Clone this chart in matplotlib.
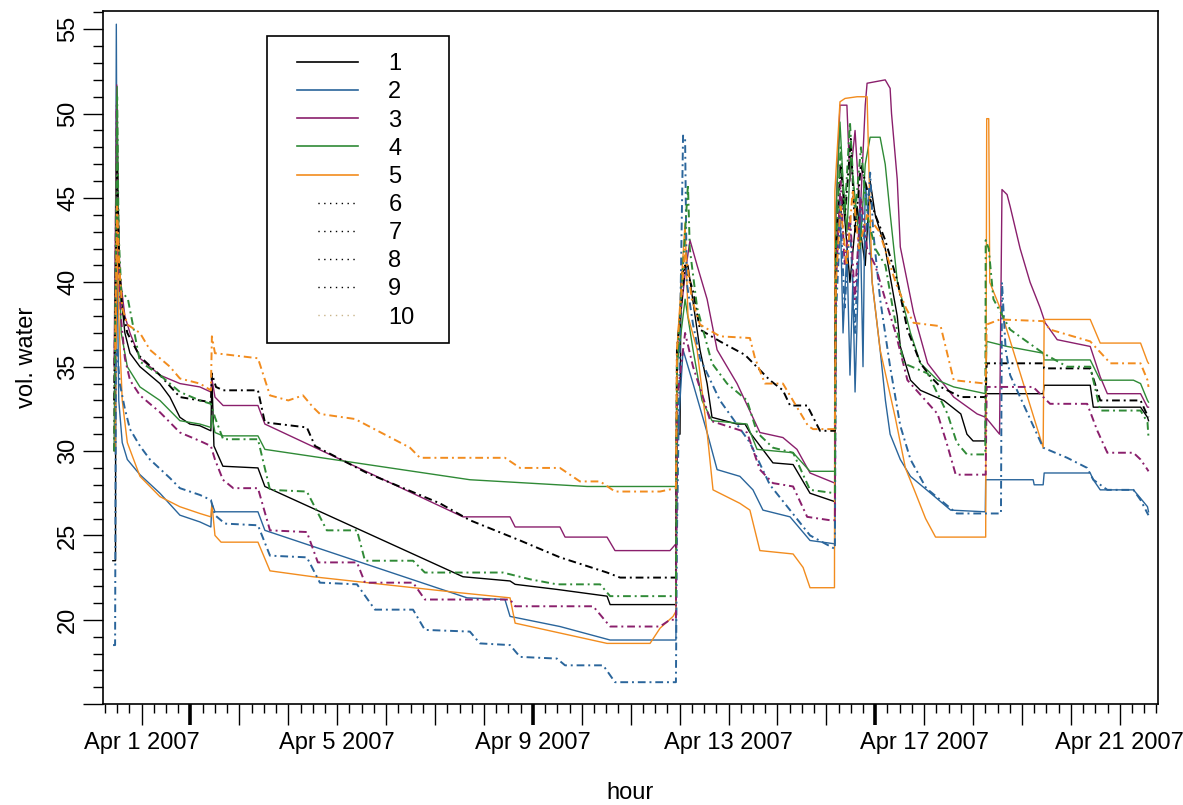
import numpy as np
import pandas as pd
import matplotlib
matplotlib.use("Agg")
import matplotlib.pyplot as plt
import matplotlib.dates as mdates
from matplotlib.ticker import MultipleLocator, FuncFormatter
from matplotlib.lines import Line2D
from matplotlib.patches import Rectangle

plt.rcParams['font.family'] = ['Liberation Sans', 'DejaVu Sans']

# hours since 2007-04-01 00:00, vol. water values
s1_h = [-14.1, -12.8, -12.6, -11.6, -10.7, -8.2, -5.7, -0.8, 4.1, 9.0, 13.9, 18.8, 23.7, 28.6, 34.0, 34.5, 35.5, 39.9, 57.1, 60.5,
        157.7, 180.8, 183.3, 203.8, 228.4, 229.9, 262.2, 262.7, 264.2, 264.7, 268.1, 271.0, 274.0, 277.5, 279.9, 292.2, 296.1,
        298.5, 309.8, 319.7, 328.0, 340.2, 340.7, 344.2, 347.6, 351.1, 355.1, 357.5, 360.0, 364.9, 370.8, 372.3, 377.3, 382.2,
        393.6, 402.0, 405.0, 408.0, 414.0, 414.2, 442.4, 442.9, 465.5, 467.0, 490.2, 493.6, 494.1]
s1_v = [23.5, 23.5, 47.0, 44.0, 40.0, 37.0, 35.8, 35.0, 34.5, 34.0, 33.2, 32.0, 31.6, 31.5, 31.2, 34.4, 30.3, 29.1, 29.0, 27.9,
        22.55, 22.3, 22.1, 21.8, 21.4, 20.9, 20.9, 31.0, 31.0, 40.5, 41.0, 38.5, 36.0, 34.0, 32.0, 31.6, 31.6,
        31.1, 29.3, 29.2, 27.5, 27.0, 42.0, 45.0, 40.0, 44.5, 41.0, 46.0, 44.0, 42.0, 38.0, 36.2, 34.2, 33.6,
        33.0, 32.2, 31.0, 30.6, 30.6, 33.4, 33.4, 33.9, 33.9, 32.6, 32.6, 32.0, 31.8]

s2_h = [-13.0, -12.4, -11.9, -11.2, -9.5, -7.0, -0.8, 9.0, 18.8, 28.6, 34.0, 34.5, 36.0, 57.1, 60.5, 159.7, 178.3, 180.8,
        205.3, 229.9, 262.2, 262.7, 265.7, 270.6, 277.5, 282.4, 293.6, 300.0, 304.9, 318.2, 328.0, 340.2, 340.7, 342.7,
        344.2, 346.1, 347.6, 349.0, 350.1, 352.6, 354.0, 355.1, 356.5, 358.5, 362.4, 365.0, 367.3, 372.3, 377.3, 387.2,
        397.0, 414.0, 414.2, 437.5, 438.0, 442.4, 442.9, 465.5, 467.0, 470.4, 486.7, 490.2, 493.6, 494.1]
s2_v = [30.0, 55.3, 40.0, 33.0, 30.5, 29.5, 28.6, 27.5, 26.2, 25.8, 25.5, 26.9, 26.4, 26.4, 25.3, 21.3, 21.2, 20.2,
        19.6, 18.8, 18.8, 30.0, 36.0, 34.0, 31.1, 28.9, 28.5, 27.7, 26.5, 26.1, 24.7, 24.5, 40.0, 45.0,
        37.0, 42.0, 34.5, 40.0, 33.5, 44.0, 35.0, 46.0, 44.0, 40.0, 36.0, 33.0, 31.0, 29.5, 28.5, 27.5,
        26.5, 26.4, 28.3, 28.3, 28.0, 28.0, 28.7, 28.7, 28.3, 27.7, 27.7, 27.2, 26.7, 26.4]

s3_h = [-13.5, -12.2, -11.6, -10.7, -8.2, -5.7, -0.8, 9.0, 18.8, 28.6, 34.0, 34.5, 36.0, 40.0, 57.1, 60.5, 157.7, 180.8,
        183.3, 205.3, 207.8, 228.4, 232.3, 259.3, 262.2, 262.7, 266.7, 269.1, 272.6, 277.5, 282.4, 292.2, 303.4, 314.7,
        321.6, 328.0, 340.2, 340.7, 342.7, 346.1, 347.6, 350.1, 352.6, 355.1, 356.0, 364.9, 367.3, 368.0, 370.8, 372.3,
        378.8, 385.7, 398.5, 410.0, 414.2, 421.0, 422.2, 424.7, 426.2, 431.1, 436.0, 440.9, 443.4, 449.3, 465.5, 470.4,
        473.9, 490.2, 493.6, 494.1]
s3_v = [35.0, 51.7, 45.0, 40.5, 38.0, 37.0, 35.5, 34.5, 34.0, 33.8, 33.5, 34.3, 33.2, 32.7, 32.7, 31.6, 26.1, 26.1,
        25.5, 25.5, 24.9, 24.9, 24.1, 24.1, 24.5, 36.0, 40.5, 42.5, 41.0, 39.0, 36.0, 34.0, 31.1, 30.8,
        30.1, 28.7, 28.1, 44.0, 50.5, 50.5, 46.0, 49.0, 44.0, 50.5, 51.8, 52.0, 51.5, 50.0, 46.1, 42.1,
        38.2, 35.2, 33.2, 32.2, 32.0, 31.0, 45.5, 45.2, 44.5, 42.0, 40.0, 38.5, 37.6, 36.6, 36.2, 34.4,
        33.4, 33.4, 32.6, 32.6]

s4_h = [-13.5, -12.0, -11.2, -10.0, -7.0, -0.8, 9.0, 18.8, 28.6, 34.0, 34.5, 36.0, 40.0, 57.1, 60.5, 161.1, 218.6, 262.2,
        262.7, 266.7, 270.6, 275.0, 279.9, 297.1, 302.0, 319.7, 328.0, 340.2, 340.7, 342.7, 344.2, 346.1, 348.0, 350.1,
        352.6, 355.1, 357.5, 362.4, 364.9, 367.3, 370.8, 377.3, 382.2, 390.6, 398.5, 414.2, 414.7, 424.7, 442.4, 442.9,
        465.5, 470.4, 486.7, 490.2, 493.6, 494.1]
s4_v = [30.0, 51.6, 42.0, 37.0, 35.0, 33.8, 33.0, 31.8, 31.6, 31.4, 32.1, 31.1, 30.9, 30.9, 30.1, 28.3, 27.9, 27.9,
        35.0, 39.0, 36.0, 33.0, 31.8, 31.6, 30.1, 29.9, 28.8, 28.8, 44.0, 49.5, 46.0, 43.0, 47.5, 45.0,
        42.0, 47.0, 48.6, 48.6, 47.0, 44.1, 40.1, 37.0, 35.2, 34.2, 33.8, 33.4, 36.5, 36.2, 35.8, 35.4,
        35.4, 34.2, 34.2, 34.0, 33.0, 32.9]

s5_h = [-13.0, -12.0, -11.2, -9.5, -7.0, -0.8, 9.0, 18.8, 28.6, 34.0, 34.5, 36.0, 39.0, 57.1, 63.0, 84.1, 156.2, 180.8,
        183.3, 228.4, 249.5, 254.4, 260.8, 262.2, 262.7, 266.7, 268.1, 272.6, 277.5, 280.4, 293.6, 298.5, 303.4, 319.7,
        324.6, 328.0, 340.0, 340.2, 342.7, 345.2, 351.1, 356.0, 357.5, 358.5, 362.4, 369.8, 374.8, 379.8, 384.7, 389.6,
        414.2, 414.7, 415.7, 416.2, 421.2, 442.4, 442.9, 465.5, 470.4, 490.2, 493.6, 494.1]
s5_v = [30.0, 44.0, 38.0, 33.0, 30.5, 28.5, 27.3, 26.7, 26.3, 26.1, 26.9, 25.0, 24.6, 24.6, 22.9, 22.55, 21.6, 21.3,
        19.8, 18.6, 18.6, 19.5, 20.2, 20.5, 36.0, 43.5, 38.0, 36.0, 31.1, 27.7, 26.9, 26.5, 24.1, 23.9,
        23.1, 21.9, 21.9, 45.4, 50.7, 50.9, 51.0, 51.0, 44.0, 40.0, 36.0, 32.0, 29.0, 27.5, 26.0, 24.9,
        24.9, 49.7, 49.7, 40.0, 38.5, 30.2, 37.8, 37.8, 36.4, 36.4, 35.3, 35.2]

s6_h = [-13.5, -12.0, -11.0, -9.5, -7.0, -0.8, 9.0, 18.8, 28.6, 34.0, 34.5, 36.5, 40.0, 57.1, 60.5, 81.1, 85.1, 110.6,
        146.4, 161.1, 185.7, 205.3, 228.4, 234.8, 262.2, 262.7, 266.7, 270.6, 274.0, 283.8, 296.1, 308.3, 314.7, 318.2,
        326.6, 332.9, 340.2, 340.7, 343.0, 345.2, 348.0, 350.1, 353.0, 356.0, 360.0, 364.9, 370.8, 375.8, 382.2, 387.2,
        392.1, 402.0, 414.2, 414.7, 442.4, 442.9, 465.5, 470.4, 490.2, 493.6, 494.1]
s6_v = [33.0, 47.0, 41.0, 38.5, 37.0, 35.6, 34.5, 33.2, 33.0, 32.9, 34.6, 33.8, 33.6, 33.6, 31.7, 31.4, 30.3, 28.7,
        26.9, 25.9, 24.7, 23.7, 22.8, 22.5, 22.5, 36.0, 41.0, 39.5, 37.2, 36.5, 35.7, 34.2, 33.6, 32.7,
        32.7, 31.2, 31.2, 42.0, 47.0, 44.0, 48.5, 43.0, 47.0, 45.5, 44.0, 42.5, 40.1, 37.2, 35.2, 34.4,
        33.8, 33.2, 33.2, 35.2, 35.2, 34.9, 34.9, 33.0, 33.0, 32.1, 32.0]

s7_h = [-14.0, -13.0, -12.6, -12.0, -10.7, -8.2, -5.7, -0.8, 4.1, 13.9, 18.8, 28.6, 34.0, 36.0, 40.9, 57.1, 63.0, 81.1,
        87.5, 105.7, 114.5, 133.2, 139.0, 161.1, 166.0, 180.8, 185.7, 203.8, 207.8, 226.5, 232.3, 262.2, 262.7, 265.7,
        266.7, 267.5, 270.6, 274.0, 283.8, 298.5, 308.3, 318.2, 328.0, 340.2, 340.7, 343.0, 345.0, 347.6, 350.1, 352.6,
        355.1, 357.5, 359.0, 362.4, 367.3, 372.3, 377.3, 385.0, 395.0, 400.0, 421.7, 422.2, 424.0, 426.2, 442.4, 454.2,
        464.0, 467.0, 473.9, 486.7, 490.2, 493.6, 494.1]
s7_v = [18.5, 18.5, 36.0, 36.0, 34.0, 32.5, 31.3, 30.3, 29.5, 28.4, 27.8, 27.4, 27.1, 26.2, 25.7, 25.6, 23.8, 23.7,
        22.2, 22.1, 20.6, 20.6, 19.4, 19.3, 18.6, 18.5, 17.8, 17.7, 17.3, 17.3, 16.3, 16.3, 25.0, 48.7,
        48.5, 40.0, 37.5, 35.5, 33.0, 30.5, 28.0, 26.5, 25.0, 24.2, 38.0, 44.0, 38.5, 43.5, 37.0, 45.0,
        42.0, 46.5, 43.0, 39.0, 35.0, 31.5, 29.5, 27.8, 26.8, 26.3, 26.3, 40.0, 36.0, 34.5, 30.2, 29.6,
        29.0, 28.3, 27.7, 27.7, 27.1, 26.3, 26.2]

s8_h = [-13.5, -12.2, -11.4, -10.2, -8.2, -5.7, -0.8, 9.0, 18.8, 28.6, 34.0, 36.0, 39.9, 45.0, 57.1, 63.0, 81.1, 86.5,
        105.7, 109.6, 133.2, 139.0, 180.8, 183.3, 221.6, 229.9, 254.4, 259.3, 262.2, 262.7, 266.7, 270.6, 276.0, 279.0,
        297.1, 303.4, 309.8, 319.7, 326.6, 337.8, 340.2, 340.7, 343.0, 345.0, 347.6, 350.0, 353.0, 356.0, 360.0, 364.9,
        370.0, 375.8, 390.6, 395.0, 399.5, 414.2, 414.7, 437.5, 445.8, 464.0, 469.0, 473.9, 486.7, 490.2, 493.6, 494.1]
s8_v = [30.0, 50.5, 42.0, 38.0, 35.5, 34.2, 33.3, 32.3, 31.1, 30.6, 30.3, 29.5, 28.3, 27.8, 27.8, 25.3, 25.2, 23.4,
        23.4, 22.2, 22.2, 21.2, 21.2, 20.8, 20.8, 19.6, 19.6, 20.0, 20.0, 33.0, 37.0, 35.0, 33.0, 31.8,
        31.1, 28.9, 28.1, 27.9, 26.1, 25.9, 25.9, 40.0, 46.0, 41.0, 44.0, 39.0, 45.0, 42.0, 41.0, 39.0,
        37.0, 34.2, 32.2, 30.5, 28.6, 28.6, 33.8, 33.8, 32.8, 32.8, 31.2, 29.9, 29.9, 29.5, 28.9, 28.8]

s9_h = [-13.5, -12.0, -11.3, -10.0, -6.7, -0.8, 9.0, 18.8, 28.6, 34.0, 36.0, 40.0, 57.1, 63.0, 81.1, 90.9, 105.7, 109.6,
        133.2, 139.0, 177.3, 190.6, 203.8, 225.0, 229.9, 262.2, 262.7, 268.1, 269.0, 272.6, 279.9, 287.3, 297.1, 302.0,
        309.8, 319.7, 328.0, 340.2, 340.7, 343.0, 345.0, 347.6, 350.1, 353.0, 356.0, 360.0, 365.0, 369.0, 374.0, 385.7,
        395.5, 400.0, 405.0, 414.0, 414.2, 415.7, 418.0, 426.2, 442.4, 454.2, 465.5, 470.4, 490.2, 493.6, 494.1]
s9_v = [30.0, 51.0, 43.0, 39.5, 39.0, 35.3, 34.5, 33.5, 33.0, 32.8, 32.0, 30.7, 30.7, 27.7, 27.6, 25.3, 25.3, 23.5,
        23.5, 22.8, 22.8, 22.4, 22.1, 22.1, 21.4, 21.4, 35.0, 45.8, 42.0, 38.5, 35.2, 34.0, 33.0, 31.1,
        30.2, 29.9, 27.7, 27.5, 42.0, 48.0, 44.0, 49.5, 44.0, 48.0, 44.0, 42.0, 41.0, 38.2, 35.2, 34.6,
        32.2, 30.5, 29.8, 29.8, 42.5, 42.0, 39.0, 37.2, 35.8, 35.0, 35.0, 32.4, 32.4, 31.7, 30.8]

s10_h = [-13.0, -12.0, -11.0, -9.5, -7.0, -0.8, 4.1, 13.9, 18.8, 28.6, 34.0, 34.5, 36.0, 57.1, 63.0, 72.0, 79.2, 84.1,
         87.5, 104.7, 131.7, 136.6, 178.3, 185.7, 205.3, 215.1, 225.0, 232.3, 254.4, 262.2, 262.7, 266.7, 270.0, 274.0,
         283.8, 298.5, 301.0, 305.9, 314.7, 320.6, 327.0, 329.5, 340.2, 340.7, 343.0, 346.0, 349.0, 352.0, 356.0, 362.0,
         370.0, 375.0, 378.8, 392.1, 398.5, 414.2, 414.7, 421.2, 442.4, 445.8, 465.5, 475.4, 490.2, 493.6, 494.1]
s10_v = [36.0, 44.5, 41.0, 38.5, 37.5, 37.0, 36.0, 35.0, 34.3, 34.0, 33.6, 36.8, 35.8, 35.5, 33.3, 33.0, 33.3, 32.6,
         32.2, 31.9, 30.2, 29.6, 29.6, 29.0, 29.0, 28.2, 28.2, 27.6, 27.6, 27.8, 36.0, 42.0, 39.0, 37.5,
         36.8, 36.7, 35.5, 34.0, 34.0, 32.8, 31.5, 31.3, 31.3, 40.0, 44.5, 41.0, 45.5, 42.0, 44.0, 43.0,
         40.0, 38.5, 37.6, 37.4, 34.2, 34.0, 37.5, 37.8, 37.7, 37.2, 36.5, 35.2, 35.2, 34.2, 33.8]

labels = ['1', '2', '3', '4', '5', '6', '7', '8', '9', '10']
colors = ['black', '#2a659b', '#8a1f6c', '#2f8a36', '#f28c1e',
          'black', '#2a659b', '#8a1f6c', '#2f8a36', '#f28c1e']
series = [(s1_h, s1_v), (s2_h, s2_v), (s3_h, s3_v), (s4_h, s4_v), (s5_h, s5_v),
          (s6_h, s6_v), (s7_h, s7_v), (s8_h, s8_v), (s9_h, s9_v), (s10_h, s10_v)]

start = pd.Timestamp('2007-04-01')

def to_time(h):
    return start + pd.to_timedelta(np.array(h), unit='h')

fig = plt.figure(figsize=(11.83, 8.05), dpi=100)
ax = fig.add_axes([0.0873, 0.1253, 0.8913, 0.861])

for i, (h, v) in enumerate(series):
    if i < 5:
        ax.plot(to_time(h), v, color=colors[i], lw=1.0)
    else:
        ax.plot(to_time(h), v, color=colors[i], lw=1.4, linestyle=(0, (4, 2, 1, 2)))

ax.set_xlim(to_time([-18.8])[0], to_time([498.6])[0])
ax.set_ylim(15, 56.08)

ax.yaxis.set_major_locator(MultipleLocator(5))
ax.yaxis.set_minor_locator(MultipleLocator(1))
ax.yaxis.set_major_formatter(FuncFormatter(lambda v, p: '' if v < 17 else '%d' % v))
ax.tick_params(axis='y', which='major', length=14.4, width=1.0, labelsize=17, labelrotation=90, pad=3)
ax.tick_params(axis='y', which='minor', length=7.2, width=1.0)
for lab in ax.get_yticklabels():
    lab.set_va('center')

label_days = [1, 5, 9, 13, 17, 21]
ax.xaxis.set_major_locator(mdates.DayLocator())
ax.xaxis.set_minor_locator(mdates.HourLocator(byhour=[0, 6, 12, 18]))

def day_fmt(v, p):
    d = mdates.num2date(v)
    if d.hour == 0 and d.day in label_days:
        return '%s %d %d' % (d.strftime('%b'), d.day, d.year)
    return ''

ax.xaxis.set_major_formatter(FuncFormatter(day_fmt))
ax.tick_params(axis='x', which='major', length=15, width=1.0, labelsize=17, pad=5)
ax.tick_params(axis='x', which='minor', length=6.5, width=1.0)

# mondays get a heavier tick
locs = ax.xaxis.get_majorticklocs()
ticks = ax.xaxis.get_major_ticks(len(locs))
for t, loc in zip(ticks, locs):
    if mdates.num2date(loc).weekday() == 0:
        t.tick1line.set_markeredgewidth(2.6)

for sp in ax.spines.values():
    sp.set_linewidth(1.2)

ax.set_xlabel('hour', fontsize=17, labelpad=20)
ax.set_ylabel('vol. water', fontsize=17, labelpad=14)

# legend
ax.add_patch(Rectangle((0.1553, 0.521), 0.1726, 0.443, transform=ax.transAxes,
                       fill=False, edgecolor='black', lw=1.2, zorder=5))
# dotted handle that only covers the right part of the sample
dotted = (29.8, (1, 3.2, 1, 3.2, 1, 3.2, 1, 3.2, 1, 3.2, 1, 3.2, 1, 18.6))
handles = []
for i in range(10):
    if i < 5:
        handles.append(Line2D([], [], color=colors[i], lw=1.2))
    elif i < 9:
        handles.append(Line2D([], [], color='black', lw=1.0, linestyle=dotted))
    else:
        handles.append(Line2D([], [], color='#c9b48a', lw=1.0, linestyle=dotted))
ax.legend(handles, labels, loc='upper left', bbox_to_anchor=(0.1837, 0.939), frameon=False,
          borderpad=0, borderaxespad=0, fontsize=17, handlelength=2.6, handletextpad=1.27,
          labelspacing=0.26)

fig.savefig('out.png', dpi=100)
